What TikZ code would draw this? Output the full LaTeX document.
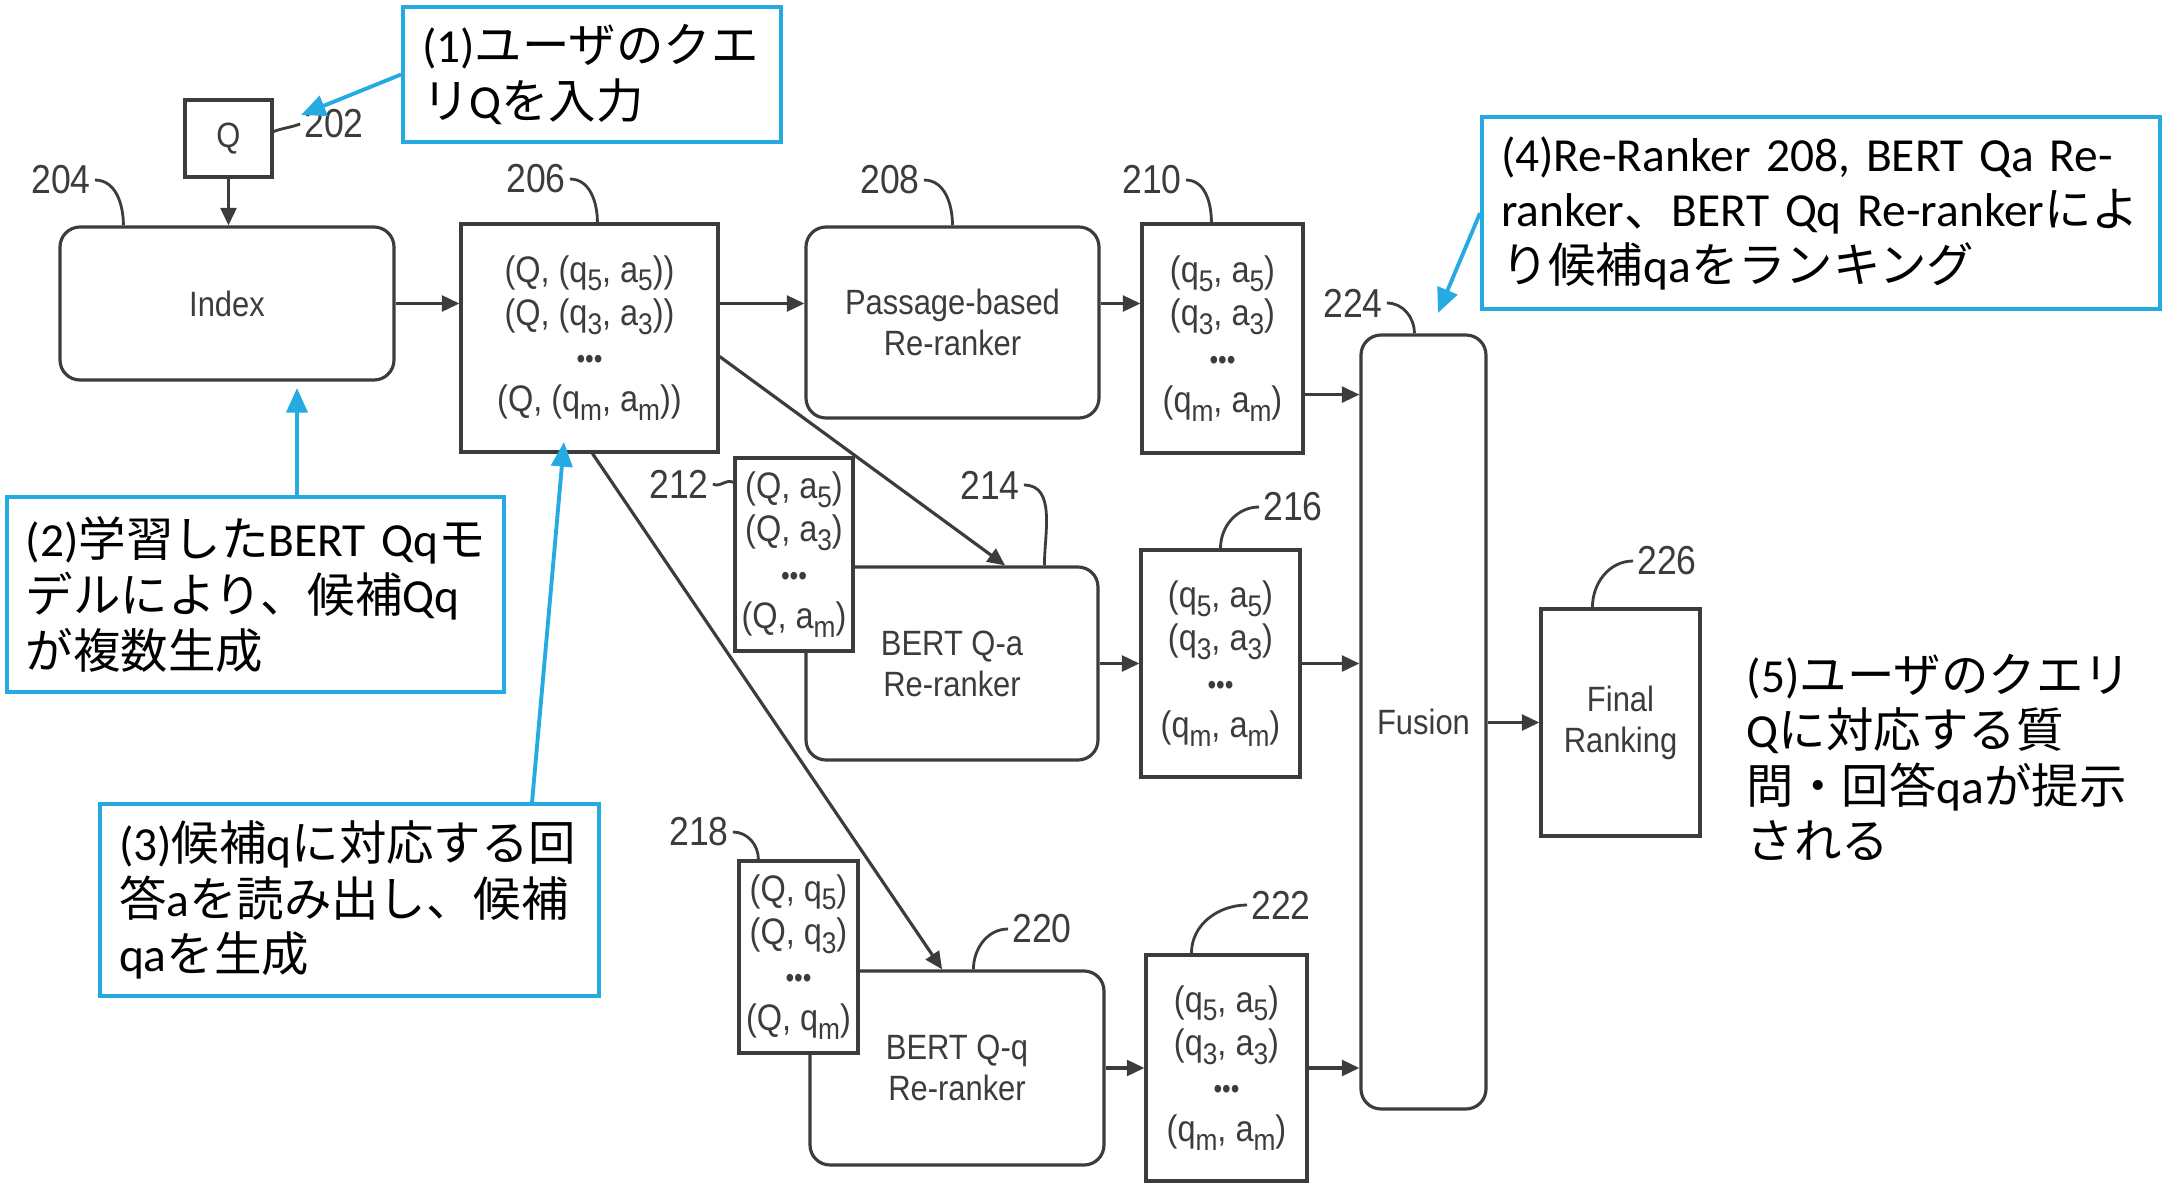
\documentclass[tikz,border=0pt]{standalone}
\usepackage{fontspec}
\usepackage{tikz}
\usetikzlibrary{arrows.meta, calc, positioning}
\newfontfamily\figfont[FakeStretch=0.88]{Liberation Sans}
\newfontfamily\jpfont{Noto Sans CJK JP}
\newfontfamily\latfont{Carlito}
\definecolor{callblue}{RGB}{38,170,226}
\definecolor{inkgray}{RGB}{60,60,60}
\newcommand{\ix}[1]{\raisebox{-0.45ex}{\fontsize{8.5}{9}\selectfont #1}}
\newcommand{\dotrow}{{\fontsize{8}{9}\selectfont •••}}
\newcommand{\lt}[1]{\mbox{\latfont #1}}

\begin{document}
\begin{tikzpicture}[
  every node/.style={font=\figfont\fontsize{10}{11.7}\selectfont, text=inkgray},
  box/.style={draw=inkgray, line width=0.9pt, fill=white, align=center, inner sep=0pt},
  rbox/.style={box, rounded corners=0.2cm},
  lst/.style={box, font=\figfont\fontsize{10.5}{12.3}\selectfont},
  num/.style={font=\figfont\fontsize{11.5}{13}\selectfont, inner sep=1pt},
  flow/.style={draw=inkgray, line width=0.9pt, -{Triangle[length=5pt,width=4.5pt]}},
  lead/.style={draw=inkgray, line width=0.8pt},
  note/.style={draw=callblue, line width=1.1pt, fill=white, align=left, text=black,
    font=\jpfont\fontsize{13.5}{15.8}\selectfont, inner xsep=0.19cm},
  callarr/.style={draw=callblue, line width=1.1pt, -{Triangle[length=7pt,width=6pt]}}
]
  \useasboundingbox (0,0) rectangle (21.84,-11.86);

  % boxes of the figure
  \node[box, minimum width=0.87cm, minimum height=0.77cm] (q) at (2.285,-1.385) {Q};
  \node[rbox, minimum width=3.34cm, minimum height=1.53cm] (idx) at (2.27,-3.035) {Index};
  \node[lst, minimum width=2.57cm, minimum height=2.28cm] (b206) at (5.895,-3.38)
    {(Q, (q\ix{5}, a\ix{5}))\\(Q, (q\ix{3}, a\ix{3}))\\\dotrow\\(Q, (q\ix{m}, a\ix{m}))};
  \node[rbox, minimum width=2.93cm, minimum height=1.91cm] (b208) at (9.525,-3.225)
    {Passage-based\\Re-ranker};
  \node[lst, minimum width=1.61cm, minimum height=2.29cm] (b210) at (12.225,-3.385)
    {(q\ix{5}, a\ix{5})\\(q\ix{3}, a\ix{3})\\\dotrow\\(q\ix{m}, a\ix{m})};
  \node[rbox, minimum width=1.25cm, minimum height=7.74cm] (fus) at (14.235,-7.22) {Fusion};
  \node[rbox, minimum width=2.92cm, minimum height=1.93cm] (b214) at (9.52,-6.635)
    {BERT Q-a\\Re-ranker};
  \node[lst, minimum width=1.18cm, minimum height=1.93cm] (b212) at (7.94,-5.545)
    {(Q, a\ix{5})\\(Q, a\ix{3})\\\dotrow\\(Q, a\ix{m})};
  \node[lst, minimum width=1.59cm, minimum height=2.27cm] (b216) at (12.205,-6.635)
    {(q\ix{5}, a\ix{5})\\(q\ix{3}, a\ix{3})\\\dotrow\\(q\ix{m}, a\ix{m})};
  \node[rbox, minimum width=2.94cm, minimum height=1.94cm] (b220) at (9.57,-10.68)
    {BERT Q-q\\Re-ranker};
  \node[lst, minimum width=1.19cm, minimum height=1.92cm] (b218) at (7.985,-9.57)
    {(Q, q\ix{5})\\(Q, q\ix{3})\\\dotrow\\(Q, q\ix{m})};
  \node[lst, minimum width=1.61cm, minimum height=2.26cm] (b222) at (12.265,-10.68)
    {(q\ix{5}, a\ix{5})\\(q\ix{3}, a\ix{3})\\\dotrow\\(q\ix{m}, a\ix{m})};
  \node[box, minimum width=1.59cm, minimum height=2.27cm] (fin) at (16.205,-7.225)
    {Final\\Ranking};

  % reference numerals
  \node[num] (l202) at (3.34,-1.24) {202};
  \node[num] (l204) at (0.61,-1.80) {204};
  \node[num] (l206) at (5.36,-1.79) {206};
  \node[num] (l208) at (8.90,-1.80) {208};
  \node[num] (l210) at (11.52,-1.80) {210};
  \node[num] (l212) at (6.79,-4.84) {212};
  \node[num] (l214) at (9.90,-4.85) {214};
  \node[num] (l216) at (12.93,-5.07) {216};
  \node[num] (l218) at (6.99,-8.32) {218};
  \node[num] (l220) at (10.42,-9.29) {220};
  \node[num] (l222) at (12.81,-9.05) {222};
  \node[num] (l224) at (13.53,-3.03) {224};
  \node[num] (l226) at (16.67,-5.61) {226};

  \draw[lead] ([yshift=0.07cm]q.east) to[out=20,in=200] (l202.west);
  \draw[lead] (l204.east) to[out=0,in=90] ([xshift=0.65cm]idx.north west);
  \draw[lead] (l206.east) to[out=0,in=90] ([xshift=1.38cm]b206.north west);
  \draw[lead] (l208.east) to[out=0,in=90] (b208.north);
  \draw[lead] (l210.east) to[out=0,in=90] ([xshift=0.71cm]b210.north west);
  \draw[lead] (l212.east) to[out=-30,in=150] ([yshift=-0.26cm]b212.north west);
  \draw[lead] (l214.east) to[out=0,in=90] ([xshift=2.40cm]b214.north west);
  \draw[lead] (l216.west) to[out=180,in=90] (b216.north);
  \draw[lead] (l218.east) to[out=0,in=90] ([xshift=0.21cm]b218.north west);
  \draw[lead] (l220.west) to[out=180,in=90] ([xshift=1.65cm]b220.north west);
  \draw[lead] (l222.west) to[out=180,in=90] ([xshift=0.47cm]b222.north west);
  \draw[lead] (l224.east) to[out=0,in=90] ([xshift=0.55cm]fus.north west);
  \draw[lead] (l226.west) to[out=180,in=90] ([xshift=0.53cm]fin.north west);

  % flow of the figure
  \draw[flow] (q.south) -- (q.south |- idx.north);
  \draw[flow] (idx.east) -- (idx.east -| b206.west);
  \draw[flow] (b206.east |- idx.east) -- (b208.west |- idx.east);
  \draw[flow] (b208.east |- idx.east) -- (b210.west |- idx.east);
  \draw[flow] ([yshift=0.6cm]b210.south east) -- ([yshift=0.6cm]b210.south east -| fus.west);
  \draw[flow] (b214.east) -- (b214.east -| b216.west);
  \draw[flow] (b216.east |- b214.east) -- (b214.east -| fus.west);
  \draw[flow] (b220.east) -- (b220.east -| b222.west);
  \draw[flow] (b222.east |- b220.east) -- (b220.east -| fus.west);
  \draw[flow] (fus.east |- fin.west) -- (fin.west);
  \draw[flow] ($(b206.north east)!0.58!(b206.south east)$) -- ($(b214.north west)!0.68!(b214.north east)$);
  \draw[flow] ([xshift=0.03cm]b206.south) -- ($(b220.north west)!0.45!(b220.north east)$);

  % callouts
  \node[note, text width=3.4cm, minimum height=1.35cm] (note1) at (5.92,-0.745)
    {\lt{(1)}ユーザのクエ\\リ\lt{Q}を入力};
  \node[note, text width=4.59cm, minimum height=1.95cm] (note2) at (2.555,-5.945)
    {\lt{(2)}学習した\lt{BERT Qq}モ\\デルにより、候補\lt{Qq}\\が複数生成};
  \node[note, text width=4.61cm, minimum height=1.92cm] (note3) at (3.495,-9.0)
    {\lt{(3)}候補\lt{q}に対応する回\\答\lt{a}を読み出し、候補\\\lt{qa}を生成};
  \node[note, text width=6.40cm, minimum height=1.92cm] (note4) at (18.21,-2.13)
    {\lt{(4)Re-Ranker 208, BERT Qa Re-}\\\lt{ranker}、\lt{BERT Qq Re-ranker}によ\\り候補\lt{qa}をランキング};
  \node[note, draw=none, fill=none, anchor=north west, inner sep=0pt] (note5) at (17.45,-6.52)
    {\lt{(5)}ユーザのクエリ\\\lt{Q}に対応する質\\問・回答\lt{qa}が提示\\される};

  \coordinate (c1) at (3.01,-1.15);
  \coordinate (c2) at (2.97,-3.88);
  \coordinate (c3) at (5.64,-4.42);
  \coordinate (c4) at (14.38,-3.13);
  \draw[callarr] (note1.west) -- (c1);
  \draw[callarr] (note2.north -| c2) -- (c2);
  \draw[callarr] ([xshift=4.34cm]note3.north west) -- (c3);
  \draw[callarr] (note4.west) -- (c4);
\end{tikzpicture}
\end{document}
